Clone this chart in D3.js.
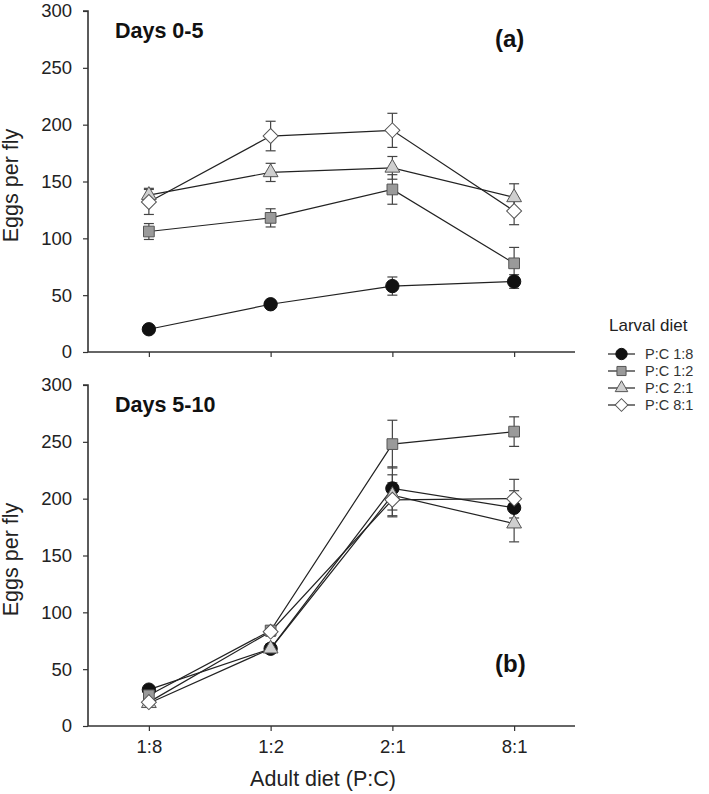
<!DOCTYPE html>
<html>
<head>
<meta charset="utf-8">
<script src="https://cdn.jsdelivr.net/npm/d3@7/dist/d3.min.js"></script>
<style>
  html, body { margin: 0; padding: 0; background: #fff; }
  svg { display: block; font-family: "Liberation Sans", Arial, sans-serif; }
</style>
</head>
<body>
<svg id="chart" width="709" height="794"></svg>
<script>
// ---------- data ----------
const adultDiets = ["1:8", "1:2", "2:1", "8:1"];
const larvalDiets = ["P:C 1:8", "P:C 1:2", "P:C 2:1", "P:C 8:1"];
const yTickValues = [0, 50, 100, 150, 200, 250, 300];
const panelTitles = ["Days 0-5", "Days 5-10"];
const panelLetters = ["(a)", "(b)"];
const legendTitle = "Larval diet";
const xAxisTitle = "Adult diet (P:C)";
const yAxisTitle = "Eggs per fly";

// Days 0-5 (panel a): mean and SE per larval diet
const days05_PC18 = [20, 42, 58, 62];
const days05_PC18_se = [2, 3, 8, 6];
const days05_PC12 = [106, 118, 143, 78];
const days05_PC12_se = [7, 8, 13, 14];
const days05_PC21 = [138, 158, 162, 136];
const days05_PC21_se = [6, 8, 10, 12];
const days05_PC81 = [132, 190, 195, 124];
const days05_PC81_se = [11, 13, 15, 12];

// Days 5-10 (panel b)
const days510_PC18 = [32, 68, 209, 192];
const days510_PC18_se = [3, 4, 19, 15];
const days510_PC12 = [27, 84, 248, 259];
const days510_PC12_se = [3, 4, 21, 13];
const days510_PC21 = [20, 68, 203, 178];
const days510_PC21_se = [3, 4, 18, 16];
const days510_PC81 = [21, 83, 199, 200];
const days510_PC81_se = [3, 4, 15, 17];

// ---------- build ----------
const panels = [
  { title: panelTitles[0], letter: panelLetters[0], top: 11, bottom: 352,
    series: [
      { name: larvalDiets[0], values: days05_PC18, se: days05_PC18_se },
      { name: larvalDiets[1], values: days05_PC12, se: days05_PC12_se },
      { name: larvalDiets[2], values: days05_PC21, se: days05_PC21_se },
      { name: larvalDiets[3], values: days05_PC81, se: days05_PC81_se }
    ] },
  { title: panelTitles[1], letter: panelLetters[1], top: 385, bottom: 726,
    series: [
      { name: larvalDiets[0], values: days510_PC18, se: days510_PC18_se },
      { name: larvalDiets[1], values: days510_PC12, se: days510_PC12_se },
      { name: larvalDiets[2], values: days510_PC21, se: days510_PC21_se },
      { name: larvalDiets[3], values: days510_PC81, se: days510_PC81_se }
    ] }
];

const styles = {
  "P:C 1:8": { shape: "circle", fill: "#111" },
  "P:C 1:2": { shape: "square", fill: "#9a9a9a" },
  "P:C 2:1": { shape: "triangle", fill: "#cfcfcf" },
  "P:C 8:1": { shape: "diamond", fill: "#ffffff" }
};

function markerPath(shape, scale) {
  const k = scale || 1;
  if (shape === "circle") return d3.symbol(d3.symbolCircle, 140 * k * k)();
  if (shape === "square") return d3.symbol(d3.symbolSquare, 115 * k * k)();
  if (shape === "triangle") return d3.symbol(d3.symbolTriangle, 95 * k * k)();
  if (shape === "diamond") return d3.symbol(d3.symbolSquare, 112 * k * k)();
  return null;
}

const svg = d3.select("#chart");
const axisLeft = 88, axisRight = 575;
const x = d3.scalePoint().domain(adultDiets).range([axisLeft, axisRight]).padding(0.5);
const font = '"Liberation Sans", Arial, sans-serif';
const axisColor = "#333";

panels.forEach((p, pi) => {
  const y = d3.scaleLinear().domain([0, 300]).range([p.bottom, p.top]);
  const g = svg.append("g");

  // y axis
  const ya = g.append("g").attr("transform", `translate(${axisLeft},0)`)
    .call(d3.axisLeft(y).tickValues(yTickValues).tickSize(5).tickPadding(11).tickFormat(d3.format("d")));
  ya.select(".domain").attr("d", `M-5,${p.top}H0V${p.bottom}`).attr("stroke", axisColor).attr("stroke-width", 1.6);
  ya.selectAll(".tick line").attr("stroke", axisColor).attr("stroke-width", 1.2);
  ya.selectAll(".tick text").attr("font-size", 18.5).attr("font-family", font).attr("fill", "#222");

  // x axis
  const xa = g.append("g").attr("transform", `translate(0,${p.bottom})`)
    .call(d3.axisBottom(x).tickSize(5).tickPadding(9));
  xa.select(".domain").attr("d", `M${axisLeft},0H${axisRight}`).attr("stroke", axisColor).attr("stroke-width", 1.6);
  xa.selectAll(".tick line").attr("stroke", axisColor).attr("stroke-width", 1.2);
  if (pi === 0) {
    xa.selectAll(".tick text").remove();
  } else {
    xa.selectAll(".tick text").attr("font-size", 18.5).attr("font-family", font).attr("fill", "#222");
  }

  // y title
  g.append("text")
    .attr("transform", `translate(18,${(p.top + p.bottom) / 2 + 4}) rotate(-90)`)
    .attr("text-anchor", "middle")
    .attr("font-size", 21.5)
    .attr("fill", "#222")
    .text(yAxisTitle);

  // panel title
  g.append("text").attr("x", 115).attr("y", p.top + 27)
    .attr("font-size", 21.5).attr("font-weight", "bold")
    .attr("fill", "#111").text(p.title);

  g.append("text").attr("x", 495).attr("y", pi === 0 ? 47 : 672)
    .attr("font-size", 24).attr("font-weight", "bold")
    .attr("fill", "#111").text(p.letter);

  const line = d3.line().x((d, i) => x(adultDiets[i])).y(d => y(d));

  // error bars
  p.series.forEach(s => {
    const eb = g.append("g").attr("stroke", "#444").attr("stroke-width", 1.2).attr("fill", "none");
    s.values.forEach((v, i) => {
      const cx = x(adultDiets[i]);
      const y1 = y(v + s.se[i]), y0 = y(v - s.se[i]);
      eb.append("line").attr("x1", cx).attr("x2", cx).attr("y1", y1).attr("y2", y0);
      eb.append("line").attr("x1", cx - 5).attr("x2", cx + 5).attr("y1", y1).attr("y2", y1);
      eb.append("line").attr("x1", cx - 5).attr("x2", cx + 5).attr("y1", y0).attr("y2", y0);
    });
  });

  // lines
  p.series.forEach(s => {
    g.append("path").datum(s.values).attr("d", line)
      .attr("fill", "none").attr("stroke", "#222").attr("stroke-width", 1.2);
  });

  // markers
  p.series.forEach(s => {
    const st = styles[s.name];
    g.append("g").selectAll("path").data(s.values).join("path")
      .attr("d", markerPath(st.shape))
      .attr("transform", (d, i) => `translate(${x(adultDiets[i])},${y(d)})` + (st.shape === "diamond" ? " rotate(45)" : ""))
      .attr("fill", st.fill)
      .attr("stroke", st.shape === "circle" ? "#111" : "#555")
      .attr("stroke-width", 1);
  });
});

// x axis title
svg.append("text").attr("x", 323).attr("y", 786)
  .attr("text-anchor", "middle").attr("font-size", 21.5)
  .attr("fill", "#222").text(xAxisTitle);

// legend
const lg = svg.append("g");
lg.append("text").attr("x", 609).attr("y", 331)
  .attr("font-size", 17).attr("fill", "#222").text(legendTitle);
const legendY = d3.scalePoint().domain(larvalDiets).range([354, 405]);
larvalDiets.forEach(name => {
  const st = styles[name];
  const ly = legendY(name);
  lg.append("line").attr("x1", 608).attr("x2", 635).attr("y1", ly).attr("y2", ly)
    .attr("stroke", "#222").attr("stroke-width", 1.2);
  lg.append("path").attr("d", markerPath(st.shape, 0.85))
    .attr("transform", `translate(621.5,${ly})` + (st.shape === "diamond" ? " rotate(45)" : ""))
    .attr("fill", st.fill).attr("stroke", st.shape === "circle" ? "#111" : "#555").attr("stroke-width", 1);
  lg.append("text").attr("x", 645).attr("y", ly + 5)
    .attr("font-size", 14.5).attr("fill", "#333").text(name);
});
</script>
</body>
</html>
